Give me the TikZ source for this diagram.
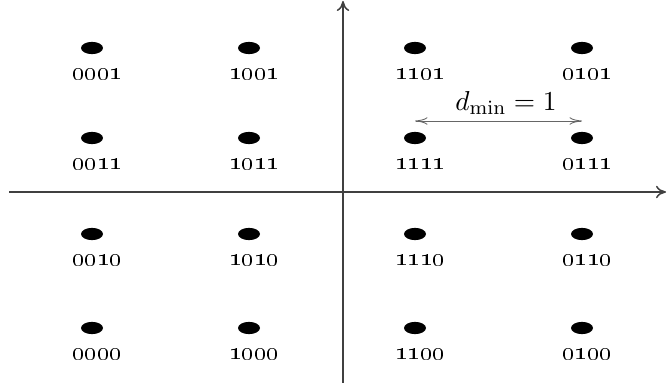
\documentclass[tikz,border=0pt]{standalone}
\usetikzlibrary{arrows.meta,shapes.geometric}
\begin{document}
\begin{tikzpicture}[x=0.4pt,y=-0.4pt,
  dot/.style={ellipse,fill=black,minimum width=8.8pt,minimum height=4.9pt,inner sep=0pt},
  lab/.style={font=\fontsize{10}{12}\selectfont,inner sep=0pt},
  axis/.style={draw=black!75,line width=0.6pt,-{To[length=4pt,width=5pt]}},
  dist/.style={draw=black!60,line width=0.35pt,{To[length=5pt,width=3pt]}-{To[length=5pt,width=3pt]}}]
\useasboundingbox (0,0) rectangle (667,385);
\coordinate (ytop) at (343,1);
\coordinate (ybot) at (343,383);
\coordinate (xl) at (9,192);
\coordinate (xr) at (666,192);
\draw[axis] (ybot) -- (ytop);
\draw[axis] (xl) -- (xr);
\foreach \lbl/\x/\y/\nm in {
 0001/92/48/a1, 1001/249/48/a2, 1101/415/48/a3, 0101/582/48/a4,
 0011/92/138/b1, 1011/249/138/b2, 1111/415/138/b3, 0111/582/138/b4,
 0010/92/234/c1, 1010/249/234/c2, 1110/415/234/c3, 0110/582/234/c4,
 0000/92/328/d1, 1000/249/328/d2, 1100/415/328/d3, 0100/582/328/d4}{
  \node[dot] (\nm) at (\x,\y) {};
  \node[lab] (\nm l) at (\x+5,\y+26) {\oldstylenums{\lbl}};
}
\coordinate (dl) at ([yshift=6.8pt]b3.center);
\coordinate (dr) at ([yshift=6.8pt]b4.center);
\draw[dist] (dl) -- (dr);
\node[font=\fontsize{11}{13}\selectfont] (dm) at (506,103) {$d_{\min}=1$};
\end{tikzpicture}
\end{document}
